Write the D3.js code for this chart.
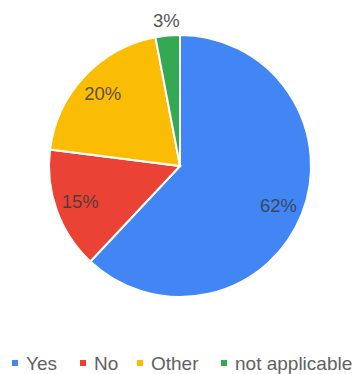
<!DOCTYPE html>
<html>
<head>
<meta charset="utf-8">
<script src="https://cdn.jsdelivr.net/npm/d3@7/dist/d3.min.js"></script>
<style>
  html, body { margin: 0; padding: 0; background: #fff; }
  svg { display: block; }
</style>
</head>
<body>
<svg id="chart" width="358" height="374"></svg>
<script>
// Survey answers, share of responses in percent
const categories = ["Yes", "No", "Other", "not applicable"];
const values = [62, 15, 20, 3];
const colors = ["#4285F4", "#EA4335", "#FBBC04", "#34A853"];

const width = 358, height = 374;
const cx = 180, cy = 166, radius = 131;
const labelFont = "Arial, 'Liberation Sans', sans-serif";

const svg = d3.select("#chart");
const data = categories.map((c, i) => ({ name: c, value: values[i], color: colors[i] }));

const pie = d3.pie().value(d => d.value).sort(null);
const arcs = pie(data);
const arc = d3.arc().innerRadius(0).outerRadius(radius);
const labelArc = d3.arc().innerRadius(106).outerRadius(106);
const outerLabelArc = d3.arc().innerRadius(radius + 15).outerRadius(radius + 15);

const g = svg.append("g").attr("transform", `translate(${cx},${cy})`);

g.selectAll("path.slice")
  .data(arcs)
  .join("path")
  .attr("class", "slice")
  .attr("d", arc)
  .attr("fill", d => d.data.color)
  .attr("stroke", "#fff")
  .attr("stroke-width", 2);

// Percentage labels; small slices get their label outside the rim
g.selectAll("text.pct")
  .data(arcs)
  .join("text")
  .attr("class", "pct")
  .attr("transform", d => {
    const small = d.data.value < 5;
    const p = (small ? outerLabelArc : labelArc).centroid(d);
    return `translate(${p[0]},${p[1]})`;
  })
  .attr("text-anchor", "middle")
  .attr("dominant-baseline", "central")
  .attr("font-family", labelFont)
  .attr("font-size", 18.5)
  .attr("fill", d => d.data.value < 5 ? "#555" : "#3a3a3a")
  .attr("fill-opacity", d => d.data.value < 5 ? 1 : 0.85)
  .text(d => d.data.value + "%");

// Legend along the bottom
const legendX = [12, 80, 137, 221];
const legend = svg.append("g").attr("transform", "translate(0,363)");
const items = legend.selectAll("g.item")
  .data(data)
  .join("g")
  .attr("class", "item")
  .attr("transform", (d, i) => `translate(${legendX[i]},0)`);

items.append("rect")
  .attr("x", 0).attr("y", -3)
  .attr("width", 6).attr("height", 6)
  .attr("fill", d => d.color);

items.append("text")
  .attr("x", 14)
  .attr("y", 0)
  .attr("dominant-baseline", "central")
  .attr("font-family", labelFont)
  .attr("font-size", 19)
  .attr("fill", "#616161")
  .text(d => d.name);
</script>
</body>
</html>
